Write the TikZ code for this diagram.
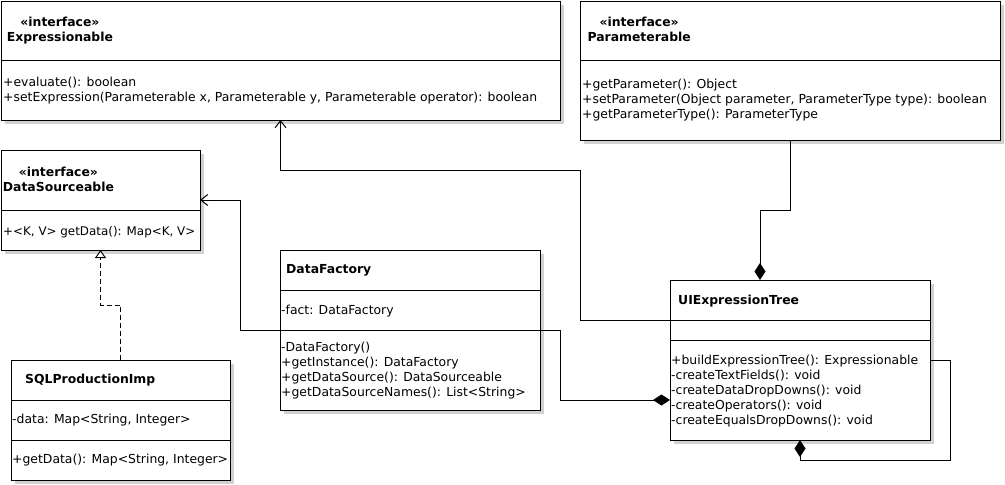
\documentclass[tikz,border=0pt]{standalone}
\usepackage{fontspec}
\setmainfont{DejaVu Sans}
\usetikzlibrary{arrows.meta,shadows}

\begin{document}
\begin{tikzpicture}[
    x=1pt, y=-1pt,
    classbox/.style={draw, line width=1pt, fill=white, anchor=north west, inner sep=0pt, outer sep=0pt,
        drop shadow={shadow xshift=4pt, shadow yshift=-4pt, fill=black!18, opacity=1}},
    name_style/.style={anchor=base west, inner sep=0pt, font=\fontsize{12.4}{15}\selectfont\bfseries},
    stereo_style/.style={anchor=base, inner sep=0pt, font=\fontsize{12.4}{15}\selectfont\bfseries},
    member_style/.style={anchor=base west, inner sep=0pt, font=\fontsize{12.4}{15}\selectfont},
    sep_line/.style={line width=1pt},
    link/.style={line width=1pt},
    assoc/.style={link, -{Straight Barb[length=7pt, width=11pt]}},
    realize/.style={link, dash pattern=on 5pt off 3pt, -{Triangle[open, length=8pt, width=11pt, fill=white]}},
    comp/.style={link, {Diamond[length=17pt, width=11pt]}-},
    comp_assoc/.style={link, {Diamond[length=17pt, width=11pt]}-{Straight Barb[length=7pt, width=11pt]}}
]

    \path[fill=white, use as bounding box] (0,0) rectangle (1005,485);

    % --- helpers: box, compartment line, member lines ---
    \def\umlbox#1#2#3#4#5{% name, left, top, right, bottom
        \node[classbox, minimum width={#4-#2}, minimum height={#5-#3}] (#1) at (#2,#3) {};
    }
    \def\umlsep#1#2{\draw[sep_line] (#1.west |- 0,#2) -- (#1.east |- 0,#2);}
    \def\members#1#2#3#4{% prefix, x, first baseline, lines
        \foreach \mtext [count=\mi] in {#4} {
            \node[member_style] (#1\mi) at (#2, {#3+15*(\mi-1)}) {\mtext};
        }
    }

    % --- Expressionable ---
    \umlbox{expr}{1}{1}{560}{120}
    \umlsep{expr}{60.5}
    \node[name_style] (exprname) at (6.7,41) {Expressionable};
    \node[stereo_style] (exprst) at ([yshift=14.5pt]exprname.base) {«interface»};
    \members{exprm}{3}{86}{{+evaluate(): boolean},
        {+setExpression(Parameterable x, Parameterable y, Parameterable operator): boolean}}

    % --- Parameterable ---
    \umlbox{param}{580}{1}{1000}{140}
    \umlsep{param}{60.5}
    \node[name_style] (paramname) at (587.3,41.3) {Parameterable};
    \node[stereo_style] (paramst) at ([yshift=14.5pt]paramname.base) {«interface»};
    \members{paramm}{582}{88.3}{{+getParameter(): Object},
        {+setParameter(Object parameter, ParameterType type): boolean},
        {+getParameterType(): ParameterType}}

    % --- DataSourceable ---
    \umlbox{ds}{1}{150}{200}{250}
    \umlsep{ds}{210}
    \node[name_style] (dsname) at (2.7,191.7) {DataSourceable};
    \node[stereo_style] (dsst) at ([yshift=15.5pt]dsname.base) {«interface»};
    \node[member_style, font=\fontsize{11.9}{15}\selectfont] (dsm1) at (3,235) {+<K, V> getData(): Map<K, V>};

    % --- SQLProductionImp ---
    \umlbox{sql}{11}{360}{230}{480}
    \umlsep{sql}{400}
    \umlsep{sql}{440}
    \node[name_style] (sqlname) at (25,383.3) {SQLProductionImp};
    \members{sqla}{12}{423.3}{{-data: Map<String, Integer>}}
    \members{sqlm}{12}{463.3}{{+getData(): Map<String, Integer>}}

    % --- DataFactory ---
    \umlbox{fact}{280}{250}{540}{410}
    \umlsep{fact}{290}
    \umlsep{fact}{330}
    \node[name_style] (factname) at (286,273) {DataFactory};
    \members{facta}{281}{314}{{-fact: DataFactory}}
    \members{factm}{281}{351.7}{{-DataFactory()},{+getInstance(): DataFactory},
        {+getDataSource(): DataSourceable},{+getDataSourceNames(): List<String>}}

    % --- UIExpressionTree ---
    \umlbox{ui}{670}{280}{930}{440}
    \umlsep{ui}{320.5}
    \umlsep{ui}{340.5}
    \node[name_style] (uiname) at (678,304.3) {UIExpressionTree};
    \members{uim}{671}{364.3}{{+buildExpressionTree(): Expressionable},{-createTextFields(): void},
        {-createDataDropDowns(): void},{-createOperators(): void},{-createEqualsDropDowns(): void}}

    % --- Connectors ---
    \draw[comp] ([xshift=-40pt]ui.north) -- ++(0,-70) -| (param.south);
    \draw[assoc] ([yshift=40pt]ui.west) -- ++(-90,0) -- ++(0,-150) -| (expr.south);
    \draw[comp_assoc] ([yshift=-40pt]ui.west) -- ++(-110,0) -- ++(0,-70) -- ++(-320,0) |- (ds.east);
    \draw[realize] (sql.north) -- ++(0,-55) -| (ds.south);
    \draw[comp] (ui.south) -- ++(0,20) -| ++(150,-100) -- (ui.east);

\end{tikzpicture}
\end{document}
